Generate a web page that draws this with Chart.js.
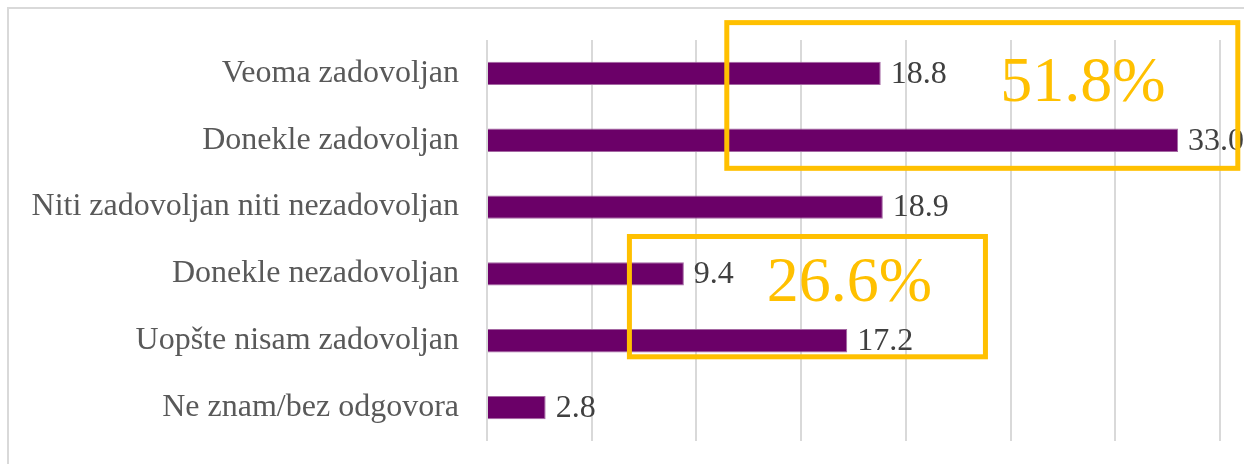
<!DOCTYPE html>
<html>
<head>
<meta charset="utf-8">
<script src="https://cdn.jsdelivr.net/npm/chart.js@4/dist/chart.umd.min.js"></script>
<style>
  html, body { margin: 0; padding: 0; background: #fff; overflow: hidden; }
  #frame { position: absolute; left: 7px; top: 7px; width: 1300px; height: 520px; border: 2px solid #d9d9d9; }
  #wrap { position: absolute; left: 0; top: 0; width: 1244px; height: 464px; }
</style>
</head>
<body>
<div id="frame"></div>
<div id="wrap"><canvas id="satisfactionChart"></canvas></div>
<script>
var categories = ['Veoma zadovoljan', 'Donekle zadovoljan', 'Niti zadovoljan niti nezadovoljan',
                  'Donekle nezadovoljan', 'Uopšte nisam zadovoljan', 'Ne znam/bez odgovora'];
var values = [18.8, 33.0, 18.9, 9.4, 17.2, 2.8];
var xTicks = [0, 5, 10, 15, 20, 25, 30, 35];

// groups highlighted with a yellow box (indexes into categories)
var groups = [[0, 1], [3, 4]];

var FONT = '"Liberation Serif", "Times New Roman", serif';

// boxes and big labels, in data units (x = value, y = category index)
var boxes = [
    { x0: 11.45, x1: 35.85, y0: -0.76, y1: 1.42, tx: 28.45, ty: 0.42 },
    { x0: 6.8, x1: 23.8, y0: 2.44, y1: 4.24, tx: 17.3, ty: 3.41 }
];

var valueLabels = {
    id: 'valueLabels',
    afterDatasetsDraw: function (chart) {
        var c = chart.ctx;
        var meta = chart.getDatasetMeta(0);
        c.save();
        c.font = '32px ' + FONT;
        c.fillStyle = '#404040';
        c.textAlign = 'left';
        c.textBaseline = 'middle';
        meta.data.forEach(function (bar, i) {
            c.fillText(values[i].toFixed(1), bar.x + 10, bar.y + 1);
        });
        c.restore();
    }
};

var highlightBoxes = {
    id: 'highlightBoxes',
    afterDraw: function (chart) {
        var c = chart.ctx;
        var xs = chart.scales.x, ys = chart.scales.y;
        c.save();
        c.strokeStyle = '#FFC000';
        c.lineWidth = 5;
        c.fillStyle = '#FFC000';
        c.font = '64px ' + FONT;
        c.textAlign = 'center';
        c.textBaseline = 'alphabetic';
        boxes.forEach(function (b, k) {
            var l = xs.getPixelForValue(b.x0), r = xs.getPixelForValue(b.x1);
            var t = ys.getPixelForValue(b.y0), btm = ys.getPixelForValue(b.y1);
            c.strokeRect(l, t, r - l, btm - t);
            var sum = groups[k].reduce(function (s, i) { return s + values[i]; }, 0);
            c.fillText(sum.toFixed(1) + '%', xs.getPixelForValue(b.tx), ys.getPixelForValue(b.ty));
        });
        c.restore();
    }
};

var ctx = document.getElementById('satisfactionChart').getContext('2d');
var satisfactionChart = new Chart(ctx, {
    type: 'bar',
    data: {
        labels: categories,
        datasets: [{
            data: values,
            backgroundColor: '#6b0068',
            borderColor: '#a467a2',
            borderWidth: 1,
            categoryPercentage: 1,
            barPercentage: 0.35
        }]
    },
    options: {
        indexAxis: 'y',
        responsive: true,
        maintainAspectRatio: false,
        animation: false,
        layout: { padding: { top: 40, bottom: 23, right: 24, left: 0 } },
        plugins: {
            legend: { display: false },
            tooltip: { enabled: false }
        },
        scales: {
            x: {
                min: xTicks[0],
                max: xTicks[xTicks.length - 1],
                afterBuildTicks: function (s) {
                    s.ticks = xTicks.map(function (v) { return { value: v }; });
                },
                afterFit: function (s) {
                    s.height = 0;
                    s.paddingLeft = 0;
                    s.paddingRight = 0;
                },
                ticks: { display: false },
                grid: { color: '#d9d9d9', lineWidth: 2, drawTicks: false },
                border: { display: false }
            },
            y: {
                afterFit: function (s) {
                    s.width = 487;
                    s.paddingTop = 0;
                    s.paddingBottom = 0;
                },
                grid: { display: false, drawTicks: false },
                border: { display: false },
                ticks: {
                    padding: 28,
                    color: '#595959',
                    font: { family: FONT, size: 32 }
                }
            }
        }
    },
    plugins: [valueLabels, highlightBoxes]
});
</script>
</body>
</html>
